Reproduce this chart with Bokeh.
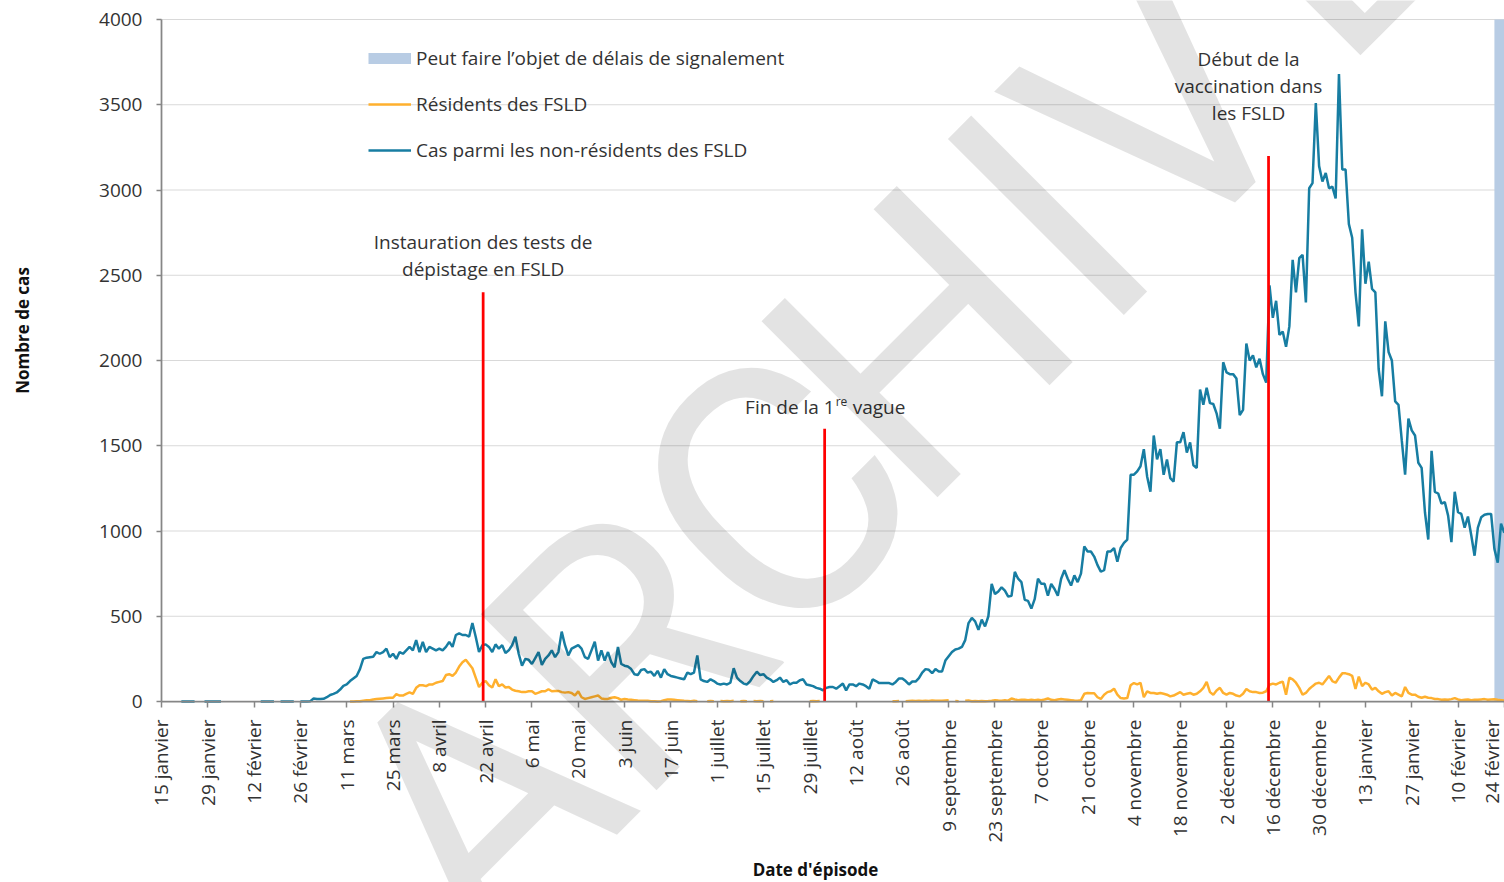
import numpy as np
import pandas as pd
from bokeh.plotting import figure
from bokeh.models import (ColumnDataSource, FixedTicker, Range1d, Legend, LegendItem, Label)
from bokeh.embed import file_html
from bokeh.resources import INLINE
from bokeh.core.properties import value

# ---------------- data ----------------
axis_start = "2020-01-15"
axis_end = "2021-02-24T01:12"
tick_labels = ["15 janvier", "29 janvier", "12 février", "26 février", "11 mars", "25 mars",
               "8 avril", "22 avril", "6 mai", "20 mai", "3 juin", "17 juin", "1 juillet",
               "15 juillet", "29 juillet", "12 août", "26 août", "9 septembre", "23 septembre",
               "7 octobre", "21 octobre", "4 novembre", "18 novembre", "2 décembre",
               "16 décembre", "30 décembre", "13 janvier", "27 janvier", "10 février", "24 février"]
y_ticks = [0, 500, 1000, 1500, 2000, 2500, 3000, 3500, 4000]

# Cas parmi les non-résidents des FSLD, daily from 2020-01-21 (None = no value)
non_res_start = "2020-01-21"
non_res_cases = [
    0, 0, 0, 0, 0, None, None, 0, 0, 0,
    0, 0, 0, None, None, None, None, None, None, None,
    None, None, None, None, 0, 0, 0, 0, 0, None,
    0, 0, 0, 0, 0, None, 0, 0, 0, 2,
    18, 15, 14, 16, 25, 38, 45, 53, 70, 92,
    100, 120, 135, 150, 190, 250, 257, 260, 262, 290,
    280, 290, 310, 260, 280, 250, 290, 280, 300, 320,
    300, 360, 290, 350, 290, 320, 310, 300, 310, 300,
    320, 350, 320, 390, 400, 390, 390, 380, 460, 380,
    290, 330, 335, 320, 290, 335, 310, 330, 285, 300,
    330, 380, 280, 210, 250, 245, 220, 255, 290, 215,
    250, 270, 300, 260, 290, 410, 330, 270, 310, 320,
    330, 310, 260, 250, 300, 350, 240, 300, 240, 290,
    230, 200, 320, 220, 210, 205, 190, 160, 155, 185,
    190, 170, 175, 150, 180, 140, 190, 160, 150, 145,
    140, 135, 130, 170, 160, 170, 270, 130, 120, 115,
    130, 120, 105, 100, 105, 100, 110, 195, 140, 120,
    105, 100, 120, 150, 175, 155, 160, 140, 130, 115,
    125, 140, 115, 125, 100, 110, 110, 125, 130, 100,
    95, 90, 80, 75, 66, 80, 85, 85, 75, 90,
    105, 65, 100, 100, 90, 105, 100, 90, 75, 130,
    120, 108, 108, 108, 108, 100, 115, 135, 135, 120,
    100, 117, 117, 137, 170, 190, 186, 166, 190, 176,
    176, 240, 265, 290, 305, 310, 320, 360, 460, 490,
    470, 420, 480, 440, 500, 690, 630, 645, 670, 650,
    615, 620, 760, 720, 700, 596, 590, 545, 600, 720,
    690, 690, 620, 690, 660, 620, 720, 770, 720, 680,
    740, 700, 750, 910, 880, 880, 850, 800, 762, 770,
    880, 880, 900, 820, 900, 930, 950, 1330, 1330, 1350,
    1380, 1480, 1320, 1230, 1560, 1420, 1480, 1330, 1420, 1310,
    1290, 1520, 1520, 1580, 1460, 1520, 1385, 1370, 1830, 1740,
    1840, 1750, 1745, 1690, 1600, 1990, 1930, 1920, 1920, 1895,
    1680, 1710, 2100, 2000, 2030, 1960, 2010, 1920, 1870, 2440,
    2250, 2350, 2150, 2170, 2080, 2200, 2590, 2400, 2600, 2620,
    2340, 3010, 3040, 3510, 3140, 3050, 3100, 3010, 3020, 2950,
    3680, 3120, 3120, 2800, 2720, 2400, 2200, 2770, 2450, 2580,
    2420, 2400, 1950, 1790, 2230, 2050, 2000, 1760, 1740, 1530,
    1330, 1660, 1590, 1560, 1400, 1370, 1110, 950, 1470, 1230,
    1220, 1160, 1170, 1090, 935, 1230, 1110, 1100, 1020, 1085,
    975, 855, 1020, 1080, 1095, 1100, 1100, 895, 814, 1043,
    990,
]

# Résidents des FSLD, daily from 2020-03-12 (None = no value)
res_start = "2020-03-12"
res_cases = [
    0, 0, 2, 2, 5, 8, 8, 12, 14, 16,
    18, 20, 22, 22, 43, 35, 35, 45, 53, 45,
    80, 95, 95, 90, 100, 100, 110, 115, 120, 155,
    160, 150, 170, 205, 230, 245, 220, 195, 140, 85,
    110, 120, 95, 82, 130, 90, 100, 82, 85, 70,
    63, 60, 55, 55, 60, 60, 45, 52, 60, 60,
    72, 60, 62, 62, 55, 52, 55, 50, 35, 60,
    25, 15, 20, 25, 30, 35, 18, 15, 15, 22,
    25, 20, 10, 15, 12, 10, 8, 6, 5, 5,
    4, 2, 2, 0, 2, 8, 12, 12, 10, 8,
    6, 4, 3, 2, 4, 2, None, None, 2, 3,
    2, None, 3, 2, 3, 2, 4, None, 2, 3,
    2, None, 3, 2, 3, 2, None, 2, 3, None,
    None, None, None, None, None, None, None, None, None, 2,
    3, 2, 3, None, None, None, None, None, None, None,
    None, None, None, None, None, None, None, None, None, None,
    None, None, None, None, 2, 1, 3, None, 2, 3,
    4, 3, 5, 3, 5, 3, 6, 4, 5, 4,
    6, 8, None, 3, 2, None, 4, 6, 2, 3,
    2, 3, 2, 3, 5, 8, 6, 5, 7, 5,
    18, 12, 8, 10, 10, 8, 10, 8, 10, 8,
    12, 18, 10, 8, 12, 14, 12, 10, 8, 6,
    5, 8, 45, 50, 48, 48, 25, 15, 40, 55,
    60, 75, 40, 20, 18, 20, 95, 108, 100, 110,
    25, 60, 50, 50, 45, 50, 45, 40, 30, 35,
    45, 55, 40, 45, 50, 40, 45, 60, 80, 115,
    55, 40, 65, 80, 50, 40, 50, 45, 35, 30,
    45, 73, 60, 55, 55, 50, 52, 60, 98, 105,
    100, 110, 117, 40, 140, 130, 110, 80, 40, 50,
    73, 90, 105, 110, 100, 125, 150, 120, 110, 140,
    165, 165, 160, 150, 73, 146, 90, 110, 100, 70,
    80, 60, 45, 55, 60, 35, 50, 40, 30, 85,
    50, 40, 40, 28, 22, 28, 22, 20, 15, 14,
    10, 12, 10, 14, 20, 12, 8, 10, 12, 8,
    10, 10, 12, 14, 10, 12, 13, 10, 8, 5,
]

delay_start = ["2021-02-21"]
delay_end = ["2021-02-27"]
delay_bottom = [0]
delay_top = [4000]

event_dates = ["2020-04-21T06:00", "2020-08-02T12:00", "2020-12-14T17:00"]
event_tops = [2400, 1600, 3200]
# the middle note is "Fin de la 1re vague" with "re" in superscript: drawn in three pieces
event_texts = ["Instauration des tests de\ndépistage en FSLD",
               "Fin de la 1",
               "Début de la\nvaccination dans\nles FSLD"]
event_sup = "re"
event_tail = "vague"

legend_labels = ["Peut faire l\u2019objet de délais de signalement",
                 "Résidents des FSLD",
                 "Cas parmi les non-résidents des FSLD"]
x_title = "Date d'épisode"
y_title = "Nombre de cas"
watermark = "ARCHIVÉ"

# ---------------- layout / styles ----------------
W, H = 1504, 882
FRAME_L, FRAME_T, FRAME_B = 161, 19, 701      # pixel position of the axes
BLUE = "#177DA2"
ORANGE = "#FFB02E"
BAND = "#B8CCE4"
RED = "#FF0000"
AXIS = "#868686"
GRID = "#d9d9d9"
TXT = "#333333"
FONT = "Open Sans"

# ---------------- build ----------------
t0 = pd.Timestamp(axis_start)
t1 = pd.Timestamp(axis_end)
ms_per_px = (t1 - t0) / (W - FRAME_L)
view_start = t0 - ms_per_px * FRAME_L
y_per_px = (y_ticks[-1] - y_ticks[0]) / (FRAME_B - FRAME_T)
y_top = y_ticks[-1] + FRAME_T * y_per_px
y_bot = y_ticks[0] - (H - FRAME_B) * y_per_px

tick_dates = [t0 + pd.Timedelta(days=14 * i) for i in range(len(tick_labels))]
tick_ms = [int(d.value // 10**6) for d in tick_dates]
t0_ms = int(t0.value // 10**6)
t1_ms = int(t1.value // 10**6)

nr_dates = pd.date_range(non_res_start, periods=len(non_res_cases), freq="D")
r_dates = pd.date_range(res_start, periods=len(res_cases), freq="D")

src_nr = ColumnDataSource(dict(x=nr_dates, y=np.array(non_res_cases, dtype=float)))
src_r = ColumnDataSource(dict(x=r_dates, y=np.array(res_cases, dtype=float)))
src_band = ColumnDataSource(dict(left=pd.to_datetime(delay_start), right=pd.to_datetime(delay_end),
                                 bottom=delay_bottom, top=delay_top))
ev = pd.to_datetime(event_dates)
src_ev = ColumnDataSource(dict(x=ev, y0=[0] * len(ev), y1=event_tops, text=event_texts,
                               xo=[0, 10, -20], yo=[-10, -9, -30],
                               align=["center", "right", "center"]))
src_grid = ColumnDataSource(dict(x0=[t0] * (len(y_ticks) - 1), x1=[t1] * (len(y_ticks) - 1),
                                 y=y_ticks[1:]))

p = figure(width=W, height=H, output_backend="svg", toolbar_location=None,
           x_axis_type="datetime",
           x_range=Range1d(view_start, t1), y_range=Range1d(y_bot, y_top),
           min_border=0, min_border_left=0, min_border_right=0,
           min_border_top=0, min_border_bottom=0)
p.outline_line_color = None
p.xgrid.visible = False
p.ygrid.visible = False

# gridlines
p.segment(x0="x0", x1="x1", y0="y", y1="y", source=src_grid, line_color=GRID, line_width=1)

band = p.quad(left="left", right="right", bottom="bottom", top="top", source=src_band,
              fill_color=BAND, line_color=None)
# legend swatch for the band (a wide flat bar, nothing visible on the chart)
band_key = p.line(x=[view_start, view_start], y=[np.nan, np.nan], line_color=BAND,
                  line_width=11, line_cap="butt")
r_line = p.line("x", "y", source=src_r, line_color=ORANGE, line_width=2.5)
nr_line = p.line("x", "y", source=src_nr, line_color=BLUE, line_width=2.5)

p.segment(x0="x", x1="x", y0="y0", y1="y1", source=src_ev, line_color=RED, line_width=2.75)
p.text(x="x", y="y1", text="text", source=src_ev, x_offset="xo", y_offset="yo",
       text_align="align", text_baseline="bottom", text_font=value(FONT),
       text_font_size="19px", text_color=TXT, text_line_height=1.04)
# superscript and tail of the "Fin de la 1re vague" note
p.text(x=[ev[1]], y=[event_tops[1]], text=[event_sup], x_offset=11, y_offset=-19,
       text_align="left", text_baseline="bottom", text_font=value(FONT),
       text_font_size="12px", text_color=TXT)
p.text(x=[ev[1]], y=[event_tops[1]], text=[event_tail], x_offset=28, y_offset=-9,
       text_align="left", text_baseline="bottom", text_font=value(FONT),
       text_font_size="19px", text_color=TXT)

# axes drawn at fixed positions inside the full-canvas frame
xa, ya = p.xaxis[0], p.yaxis[0]
xa.fixed_location = 0
xa.bounds = (t0_ms, t1_ms)
ya.fixed_location = t0_ms
ya.bounds = (y_ticks[0], y_ticks[-1])
xa.ticker = FixedTicker(ticks=tick_ms)
xa.major_label_overrides = {ms: lab for ms, lab in zip(tick_ms, tick_labels)}
xa.major_label_orientation = np.pi / 2
ya.ticker = FixedTicker(ticks=y_ticks)
for ax in (xa, ya):
    ax.axis_line_color = AXIS
    ax.axis_line_width = 1.75
    ax.major_tick_line_color = AXIS
    ax.major_tick_line_width = 1.5
    ax.major_tick_in = 0
    ax.minor_tick_line_color = None
    ax.major_label_text_font = FONT
    ax.major_label_text_font_size = "19px"
    ax.major_label_text_color = TXT
xa.major_tick_out = 6
xa.major_label_standoff = 12
ya.major_tick_out = 5
ya.major_label_standoff = 14

# axis titles
p.add_layout(Label(text=x_title, x=815, y=H - 869, x_units="screen", y_units="screen",
                   text_align="center", text_baseline="middle", text_font=FONT,
                   text_font_size="17px", text_font_style="bold", text_color="#111111"))
p.add_layout(Label(text=y_title, x=22, y=H - 330, x_units="screen", y_units="screen",
                   angle=np.pi / 2, text_align="center", text_baseline="middle", text_font=FONT,
                   text_font_size="17px", text_font_style="bold", text_color="#111111"))

legend = Legend(items=[LegendItem(label=legend_labels[0], renderers=[band_key]),
                       LegendItem(label=legend_labels[1], renderers=[r_line]),
                       LegendItem(label=legend_labels[2], renderers=[nr_line])],
                location=(368, H - 163), padding=0, spacing=20, glyph_width=43, glyph_height=12,
                label_standoff=5, label_height=26, border_line_color=None,
                background_fill_alpha=0, label_text_font=FONT, label_text_font_size="19px",
                label_text_color=TXT)
p.add_layout(legend)

# watermark, one letter at a time along a 45 degree baseline
wm_pos = [(478, 803), (627, 649), (776, 495), (920, 344), (1050, 218), (1160, 107), (1325, -80)]
for ch, (px, py) in zip(watermark, wm_pos):
    p.add_layout(Label(text=ch, x=px, y=H - py, x_units="screen", y_units="screen",
                       angle=np.pi / 4, text_align="center", text_baseline="middle",
                       text_font="Roboto", text_font_size="350px", text_color="black",
                       text_alpha=0.11))

open("out.html", "w").write(file_html(p, INLINE))
